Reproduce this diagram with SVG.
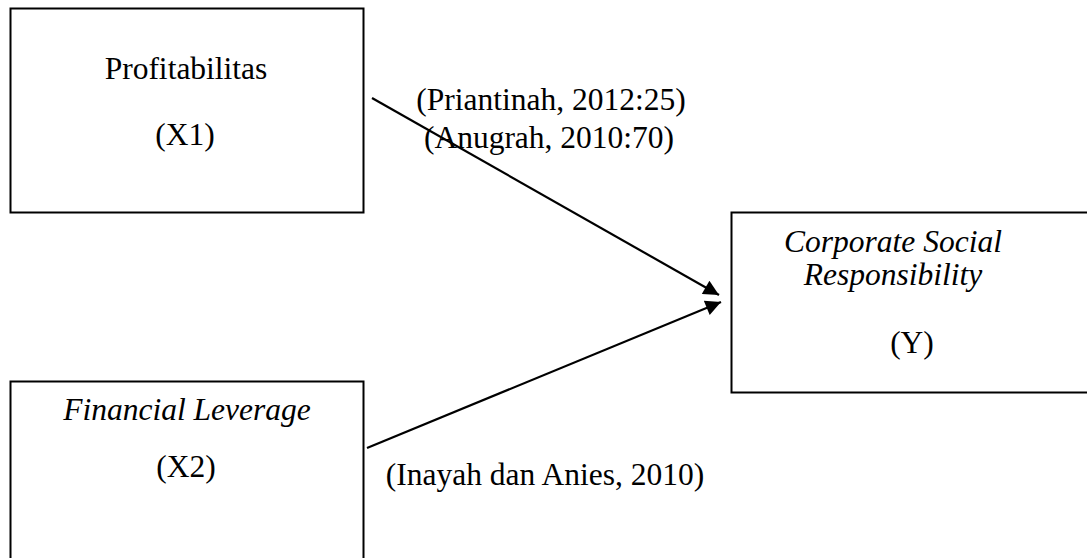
<svg xmlns="http://www.w3.org/2000/svg" width="1087" height="558" viewBox="0 0 1087 558">
<style>
.box{fill:#fff;stroke:#000;stroke-width:2}
.t{font-family:"Liberation Serif","Times New Roman",serif;font-size:31.5px;fill:#000;text-anchor:middle}
.i{font-style:italic}
.c{stroke:#000;stroke-width:2.2;fill:none}
</style>
<defs>
<marker id="ah" viewBox="0 0 10 10" refX="10" refY="5" markerWidth="8" markerHeight="7" markerUnits="strokeWidth" orient="auto">
<path d="M0,0 L10,5 L0,10 z" fill="#000"/>
</marker>
</defs>
<rect width="1087" height="558" fill="#fff"/>
<g id="node-x1">
<rect class="box" x="10.5" y="8.5" width="353" height="204"/>
<text class="t" x="186" y="79">Profitabilitas</text>
<text class="t" x="185" y="145">(X1)</text>
</g>
<g id="node-x2">
<rect class="box" x="10.5" y="381.5" width="353" height="190"/>
<text class="t i" x="187" y="420">Financial Leverage</text>
<text class="t" x="186" y="477">(X2)</text>
</g>
<g id="node-y">
<rect class="box" x="731.5" y="212.5" width="370" height="180"/>
<text class="t i" x="893" y="252">Corporate Social</text>
<text class="t i" x="893" y="285">Responsibility</text>
<text class="t" x="912" y="353">(Y)</text>
</g>
<g id="connectors">
<line class="c" x1="372" y1="98" x2="719" y2="295" marker-end="url(#ah)"/>
<line class="c" x1="367" y1="448" x2="721" y2="302" marker-end="url(#ah)"/>
</g>
<g id="labels">
<text class="t" x="551" y="110">(Priantinah, 2012:25)</text>
<text class="t" x="549" y="148">(Anugrah, 2010:70)</text>
<text class="t" x="545" y="485">(Inayah dan Anies, 2010)</text>
</g>
</svg>
